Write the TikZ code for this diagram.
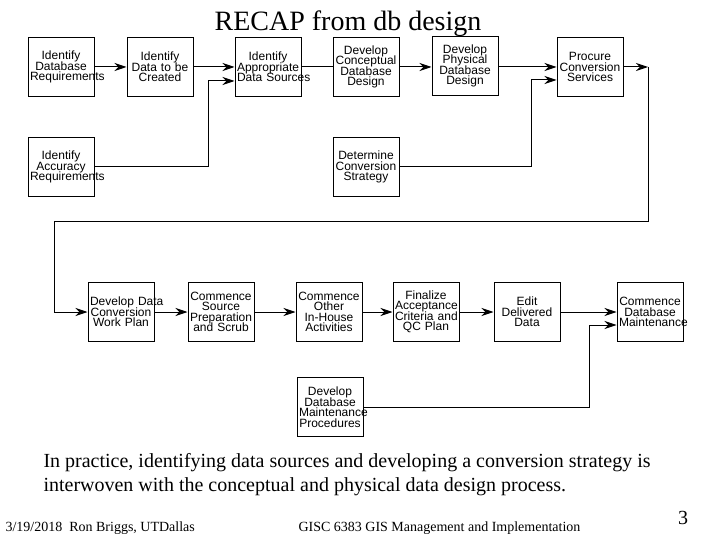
\documentclass[tikz,border=0pt]{standalone}
\usepackage{fontspec}
\setmainfont{Liberation Serif}
\newfontfamily\boxfont{Liberation Sans}
\usetikzlibrary{arrows.meta}

\newcommand{\nohyph}{\hyphenpenalty=10000\relax\exhyphenpenalty=10000\relax\lineskiplimit=-20pt\relax}

\tikzset{
	stepbox/.style={draw,line width=1pt,text width=62pt,inner xsep=2pt,inner ysep=0pt,
		minimum height=59pt,align=center,
		font=\boxfont\fontsize{12}{10.5}\selectfont\nohyph},
	foot/.style={inner sep=0pt,anchor=base west,font=\fontsize{14}{16}\selectfont}
}

\begin{document}
\begin{tikzpicture}[x=1pt,y=-1pt,line width=1pt,>={Stealth[length=12pt,width=8pt]}]
	\useasboundingbox (0,0) rectangle (720,540);
	
	\node[anchor=base,font=\fontsize{28}{30}\selectfont] (title) at (348,31) {RECAP from db design};
	
	%TOP ROW
	\node[stepbox] (dbreq) at (61,67) {Identify\\Database\\Requirements};
	\node[stepbox] (create) at (160,67) {Identify\\Data~to~be\\Created};
	\node[stepbox] (sources) at (268,67) {Identify\\Appropriate\\Data~Sources};
	\node[stepbox] (concept) at (366,67) {Develop\\Conceptual\\Database\\Design};
	\node[stepbox] (physical) at (465,66) {Develop\\Physical\\Database\\Design};
	\node[stepbox] (procure) at (590,67) {Procure\\Conversion\\Services};
	
	%MIDDLE ROW
	\node[stepbox] (accreq) at (61,167) {Identify\\Accuracy\\Requirements};
	\node[stepbox] (strategy) at (366,167) {Determine\\Conversion\\Strategy};
	
	%BOTTOM ROW
	\node[stepbox] (workplan) at (121,312) {Develop~Data\\Conversion\\Work~Plan};
	\node[stepbox] (scrub) at (221,312) {Commence\\Source\\Preparation\\and~Scrub};
	\node[stepbox] (inhouse) at (329,312) {Commence\\Other\\In-House\\Activities};
	\node[stepbox] (accept) at (426,312) {Finalize\\Acceptance\\Criteria~and\\QC~Plan};
	\node[stepbox] (edit) at (527,312) {Edit\\Delivered\\Data};
	\node[stepbox] (maint) at (650,312) {Commence\\Database\\Maintenance};
	\node[stepbox] (procs) at (330,407) {Develop\\Database\\Maintenance\\Procedures};
	
	\coordinate (j1) at (208,81);
	\coordinate (j2) at (531,80);
	\coordinate (tr) at (648,67);
	\coordinate (tl) at (54,222);
	\coordinate (j3) at (589,325);
	
	\draw[->] (dbreq) -- (create);
	\draw[->] (create) -- (sources);
	\draw (sources) -- (concept);
	\draw[->] (concept) -- (physical.west |- concept);
	\draw[->] (physical.east |- procure) -- (procure);
	\draw[->] (accreq.east) -| (j1) -- (j1 -| sources.west);
	\draw[->] (strategy.east) -| (j2) -- (j2 -| procure.west);
	\draw[->] (procure) -- (tr);
	\draw[->] (tr) |- (tl) |- (workplan.west);
	\draw[->] (workplan) -- (scrub);
	\draw[->] (scrub) -- (inhouse);
	\draw[->] (inhouse) -- (accept);
	\draw[->] (accept) -- (edit);
	\draw[->] (edit) -- (maint);
	\draw[->] (procs.east) -| (j3) -- (j3 -| maint.west);
	
	%TEXT
	\node[inner sep=0pt,anchor=base west,align=left,font=\fontsize{20}{23.5}\selectfont] (note) at (43,491)
	{In practice, identifying data sources and developing a conversion strategy is\\
		interwoven with the conceptual and physical data design process.};
	\node[foot] (date) at (5,531) {3/19/2018~~Ron Briggs, UTDallas};
	\node[foot] (course) at (298,531) {GISC 6383 GIS Management and Implementation};
	\node[anchor=base,inner sep=0pt,font=\fontsize{20}{22}\selectfont] (page) at (683,524) {3};
\end{tikzpicture}
\end{document}
